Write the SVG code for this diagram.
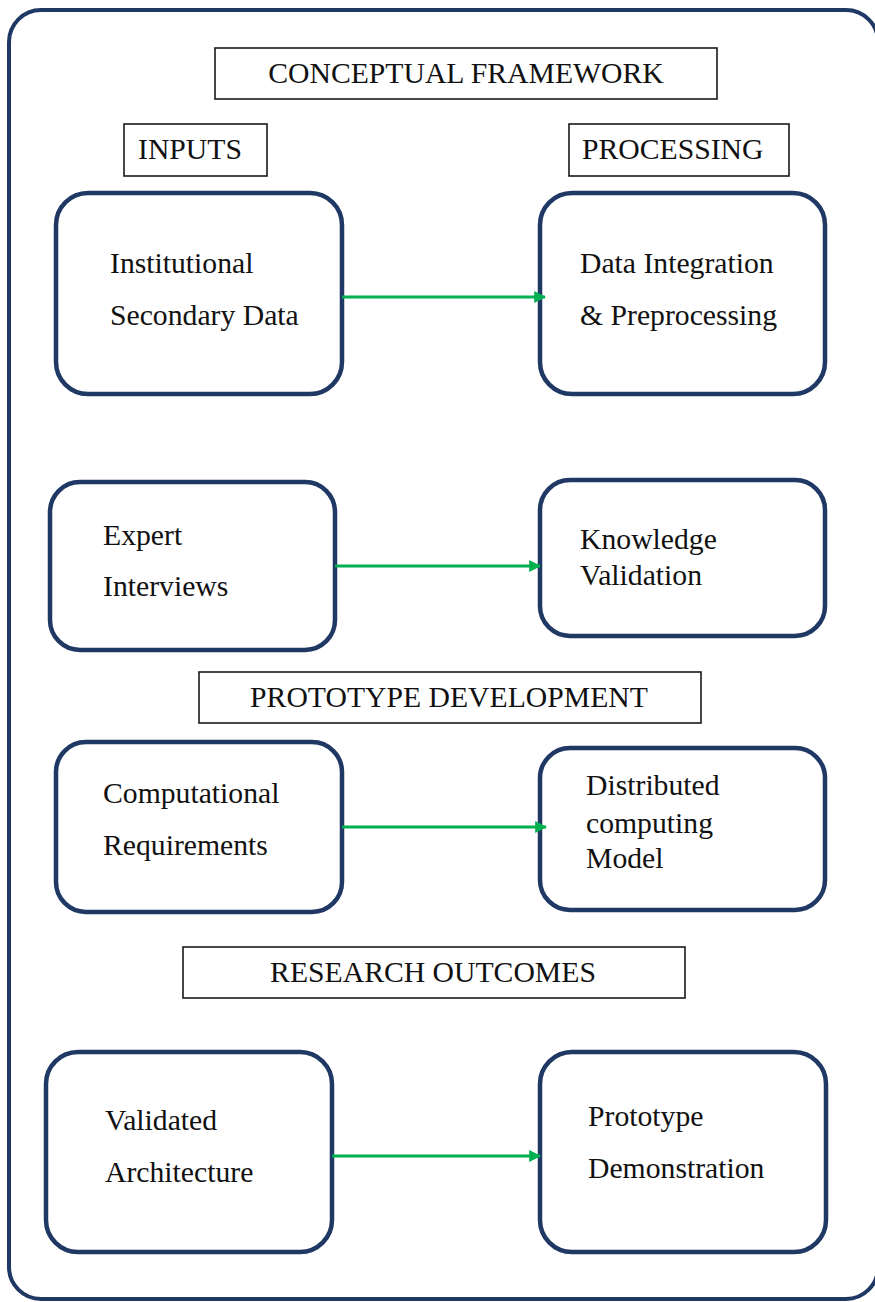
<svg xmlns="http://www.w3.org/2000/svg" width="875" height="1302" viewBox="0 0 875 1302">
  <style>
    .frame { fill: #ffffff; stroke: #1f3864; stroke-width: 4; }
    .node { fill: #ffffff; stroke: #1f3864; stroke-width: 4.5; }
    .hdr { fill: #ffffff; stroke: #1a1a1a; stroke-width: 1.6; }
    text { font-family: "Liberation Serif", "Times New Roman", serif; font-size: 29.7px; fill: #111111; }
    .mid { text-anchor: middle; }
    .link { stroke: #00b050; stroke-width: 3; fill: none; marker-end: url(#arrow); }
  </style>
  <defs>
    <marker id="arrow" markerWidth="4" markerHeight="4" refX="3.6" refY="2" orient="auto" markerUnits="strokeWidth">
      <path d="M0,0 L4,2 L0,4 Z" fill="#00b050"/>
    </marker>
  </defs>

  <!-- outer frame -->
  <rect class="frame" x="9" y="10" width="869" height="1289" rx="32" ry="32"/>

  <!-- section headers -->
  <g id="hdr-framework">
    <rect class="hdr" x="215" y="48" width="502" height="51"/>
    <text class="mid" x="466" y="83">CONCEPTUAL FRAMEWORK</text>
  </g>
  <g id="hdr-inputs">
    <rect class="hdr" x="124" y="124" width="143" height="52"/>
    <text x="138" y="159">INPUTS</text>
  </g>
  <g id="hdr-processing">
    <rect class="hdr" x="569" y="124" width="220" height="52"/>
    <text x="582" y="159">PROCESSING</text>
  </g>
  <g id="hdr-prototype">
    <rect class="hdr" x="199" y="672" width="502" height="51"/>
    <text class="mid" x="449" y="707">PROTOTYPE DEVELOPMENT</text>
  </g>
  <g id="hdr-outcomes">
    <rect class="hdr" x="183" y="947" width="502" height="51"/>
    <text class="mid" x="433" y="982">RESEARCH OUTCOMES</text>
  </g>

  <!-- nodes -->
  <g id="institutional-data">
    <rect class="node" x="56" y="193" width="286" height="201" rx="32" ry="32"/>
    <text x="110" y="273">Institutional</text>
    <text x="110" y="325">Secondary Data</text>
  </g>
  <g id="data-integration">
    <rect class="node" x="540" y="193" width="285" height="201" rx="32" ry="32"/>
    <text x="580" y="273">Data Integration</text>
    <text x="580" y="325">&amp; Preprocessing</text>
  </g>
  <g id="expert-interviews">
    <rect class="node" x="50" y="482" width="285" height="168" rx="30" ry="30"/>
    <text x="103" y="545">Expert</text>
    <text x="103" y="596">Interviews</text>
  </g>
  <g id="knowledge-validation">
    <rect class="node" x="540" y="480" width="285" height="156" rx="30" ry="30"/>
    <text x="580" y="549">Knowledge</text>
    <text x="580" y="585">Validation</text>
  </g>
  <g id="computational-requirements">
    <rect class="node" x="56" y="742" width="286" height="170" rx="30" ry="30"/>
    <text x="103" y="803">Computational</text>
    <text x="103" y="855">Requirements</text>
  </g>
  <g id="distributed-model">
    <rect class="node" x="540" y="748" width="285" height="162" rx="30" ry="30"/>
    <text x="586" y="795">Distributed</text>
    <text x="586" y="833">computing</text>
    <text x="586" y="868">Model</text>
  </g>
  <g id="validated-architecture">
    <rect class="node" x="46" y="1052" width="286" height="200" rx="32" ry="32"/>
    <text x="105" y="1130">Validated</text>
    <text x="105" y="1182">Architecture</text>
  </g>
  <g id="prototype-demonstration">
    <rect class="node" x="540" y="1052" width="286" height="200" rx="32" ry="32"/>
    <text x="588" y="1126">Prototype</text>
    <text x="588" y="1178">Demonstration</text>
  </g>

  <!-- connectors -->
  <g id="connectors">
    <line class="link" x1="342" y1="297" x2="545" y2="297"/>
    <line class="link" x1="335" y1="566" x2="540" y2="566"/>
    <line class="link" x1="342" y1="827" x2="546" y2="827"/>
    <line class="link" x1="332" y1="1156" x2="540" y2="1156"/>
  </g>
</svg>
